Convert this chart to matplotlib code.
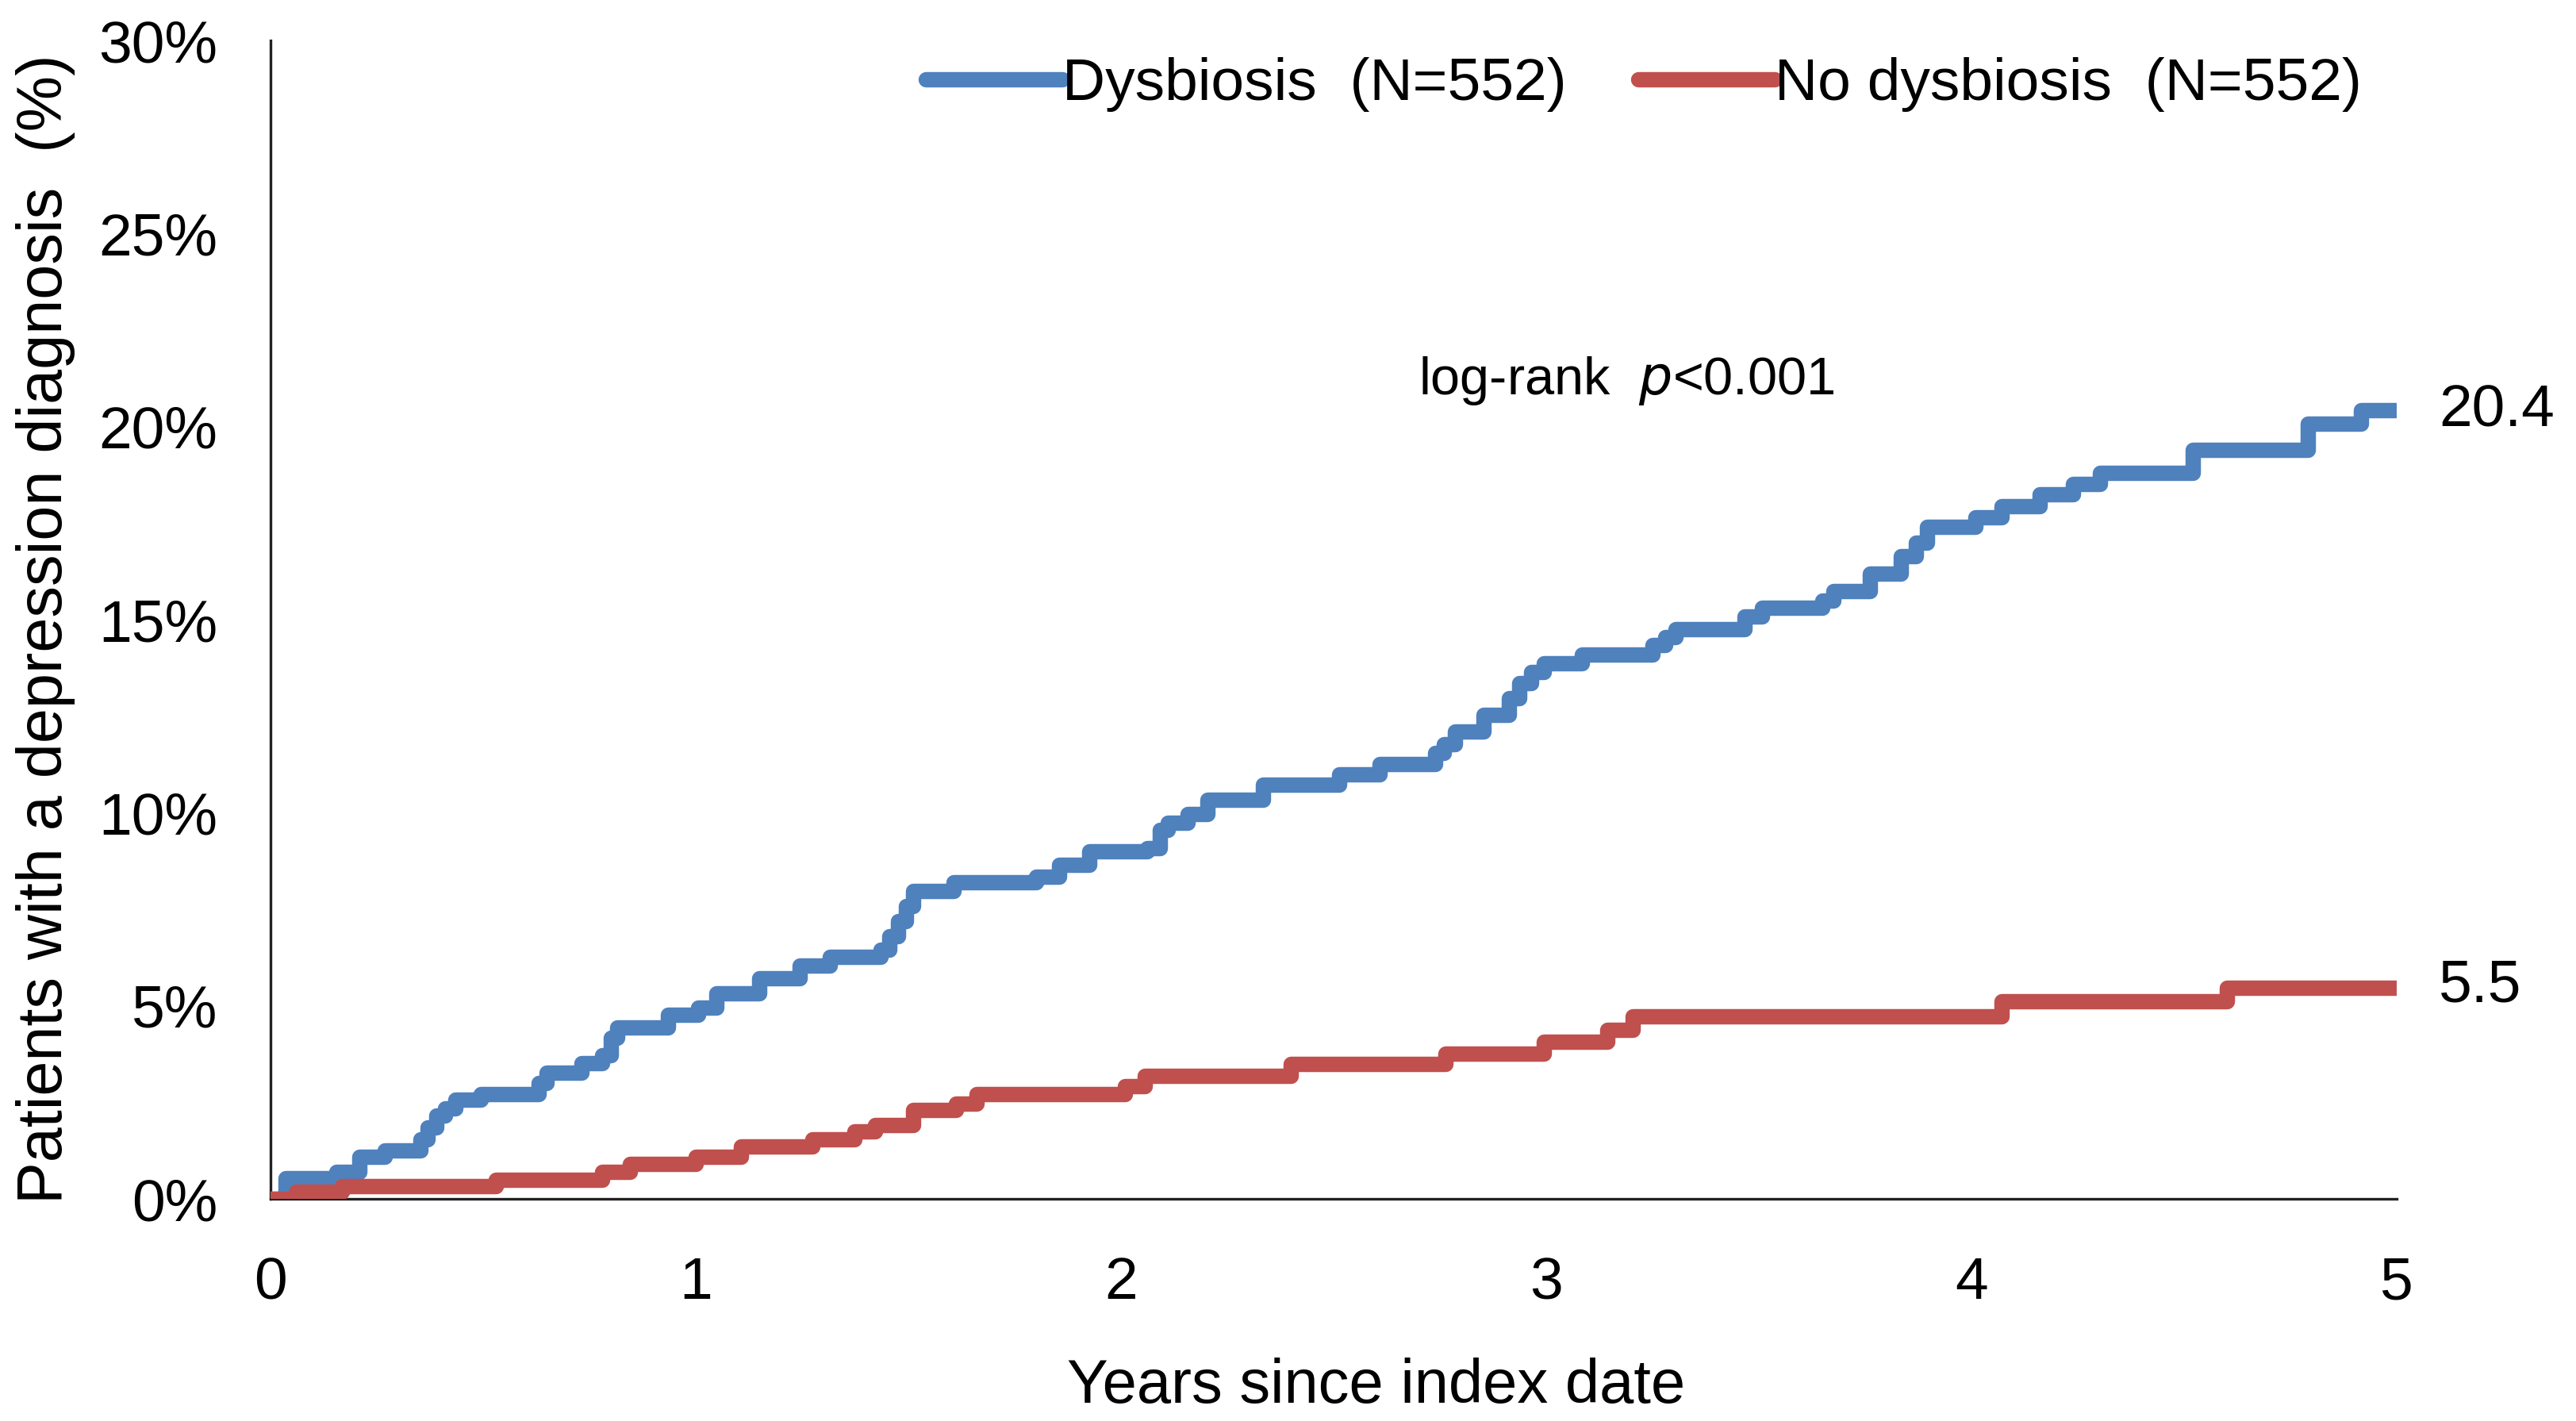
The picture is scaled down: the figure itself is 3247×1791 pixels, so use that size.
import matplotlib
matplotlib.use("Agg")
import matplotlib.pyplot as plt

plt.rcParams['font.family'] = ['Liberation Sans', 'DejaVu Sans']

# cumulative incidence (%), step changes
dys_years = [0, 0.036, 0.155, 0.209, 0.269, 0.352, 0.37, 0.39, 0.41, 0.435, 0.494,
             0.63, 0.649, 0.732, 0.78, 0.80, 0.815, 0.934, 1.005, 1.048, 1.149,
             1.244, 1.315, 1.434, 1.455, 1.475, 1.495, 1.511, 1.607, 1.80, 1.854,
             1.925, 2.062, 2.092, 2.11, 2.157, 2.204, 2.335, 2.514, 2.609, 2.74,
             2.76, 2.785, 2.853, 2.913, 2.936, 2.965, 2.995, 3.085, 3.251, 3.28,
             3.305, 3.466, 3.507, 3.65, 3.676, 3.761, 3.834, 3.87, 3.896, 4.009,
             4.071, 4.161, 4.24, 4.302, 4.522, 4.792, 4.916, 5.0]
dys_pct = [0, 0.53, 0.70, 1.09, 1.25, 1.55, 1.85, 2.15, 2.35, 2.58, 2.71,
           3.0, 3.26, 3.52, 3.72, 4.18, 4.44, 4.77, 4.96, 5.33, 5.72,
           6.04, 6.27, 6.45, 6.8, 7.19, 7.59, 7.98, 8.20, 8.35, 8.66,
           9.0, 9.09, 9.55, 9.75, 9.97, 10.34, 10.73, 11.0, 11.26, 11.55,
           11.78, 12.11, 12.54, 12.96, 13.36, 13.65, 13.88, 14.10, 14.34, 14.56,
           14.76, 15.09, 15.32, 15.5, 15.75, 16.2, 16.64, 17.0, 17.4, 17.65,
           17.95, 18.25, 18.51, 18.8, 19.41, 20.08, 20.44, 20.44]

nodys_years = [0, 0.06, 0.167, 0.53, 0.78, 0.845, 1.0, 1.107, 1.274, 1.374, 1.422,
               1.511, 1.612, 1.66, 2.009, 2.056, 2.40, 2.764, 2.995, 3.144, 3.204,
               4.071, 4.601, 5.0]
nodys_pct = [0, 0.18, 0.33, 0.5, 0.70, 0.9, 1.09, 1.36, 1.55, 1.75, 1.92,
             2.3, 2.47, 2.71, 2.93, 3.19, 3.5, 3.76, 4.07, 4.37, 4.73,
             5.12, 5.46, 5.46]

series_labels = ['Dysbiosis  (N=552)', 'No dysbiosis  (N=552)']
end_labels = ['20.4', '5.5']
end_values = [20.4, 5.5]
yticks = [0, 5, 10, 15, 20, 25, 30]
xticks = [0, 1, 2, 3, 4, 5]

blue = '#4F81BD'
red = '#C0504D'

fig = plt.figure(figsize=(16.24, 8.955), dpi=200)
ax = fig.add_axes([0.105, 0.1563, 0.825, 0.815])

ax.step(dys_years, dys_pct, where='post', color=blue, lw=7,
        solid_joinstyle='round', solid_capstyle='round', label=series_labels[0], zorder=3)
ax.step(nodys_years, nodys_pct, where='post', color=red, lw=7,
        solid_joinstyle='round', solid_capstyle='round', label=series_labels[1], zorder=3)

ax.set_xlim(0, 5)
ax.set_ylim(0, 30)
ax.set_xticks(xticks)
ax.set_xticklabels([str(t) for t in xticks])
ax.set_yticks(yticks)
ax.set_yticklabels([f'{t}%' for t in yticks])
ax.tick_params(axis='both', length=0, labelsize=27)
ax.tick_params(axis='y', pad=24)
ax.tick_params(axis='x', pad=26)

for s in ['top', 'right']:
    ax.spines[s].set_visible(False)
for s in ['left', 'bottom']:
    ax.spines[s].set_color('#222222')
    ax.spines[s].set_linewidth(1.2)

ax.set_ylabel('Patients with a depression diagnosis  (%)', fontsize=28.5)
ax.yaxis.set_label_coords(-0.092, 0.492)
ax.set_xlabel('Years since index date', fontsize=28)
ax.xaxis.set_label_coords(0.52, -0.137)

ax.text(3.19, 21.2, r'log-rank  $\it{p}$<0.001', fontsize=24, ha='center', va='center')

for lab, val in zip(end_labels, end_values):
    ax.text(5.1, val, lab, fontsize=27, ha='left', va='center', clip_on=False)

ax.legend(loc='center', bbox_to_anchor=(0.646, 0.962), ncol=2, frameon=False,
          fontsize=27, handlelength=2.3, handletextpad=0.0, columnspacing=1.2)

fig.savefig('out.png', dpi=200)
